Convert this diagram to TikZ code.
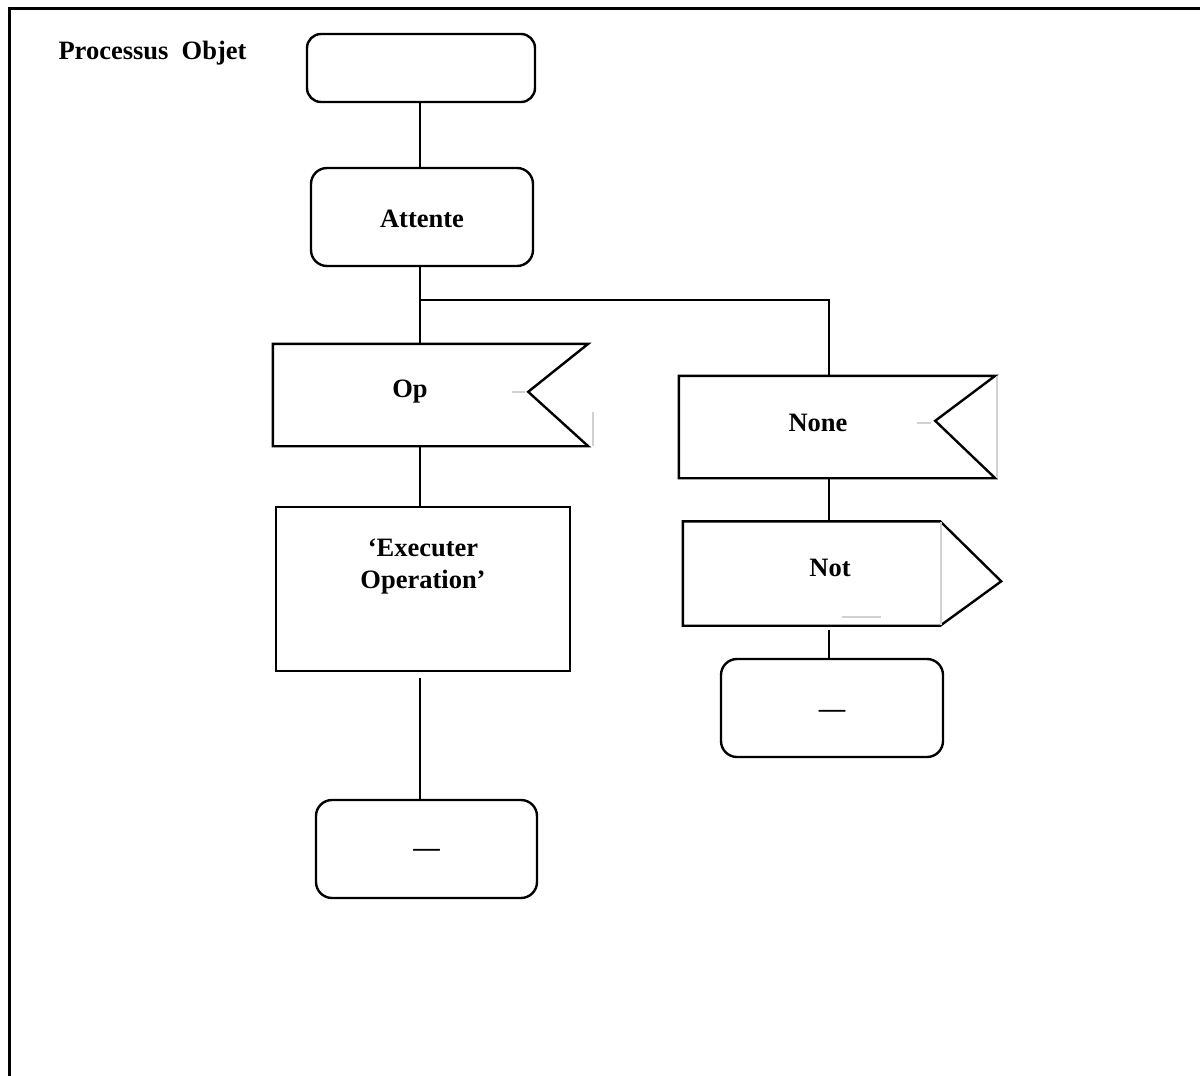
\documentclass[tikz,border=0pt]{standalone}
\usepackage{fontspec}
\setmainfont{Liberation Serif}
\usetikzlibrary{positioning}

\begin{document}
\begin{tikzpicture}[
        x=1pt, y=-1pt,
        every node/.style={font=\fontsize{26.5}{32}\selectfont\bfseries},
        state/.style={rectangle, draw, line width=2.4pt, rounded corners=16pt,
            minimum width=222, minimum height=98},
        task/.style={rectangle, draw, line width=2.4pt,
            minimum width=294, minimum height=164},
        sigbody/.style={rectangle, draw=none, inner sep=0pt},
        sig/.style={line width=2.4pt, line join=miter},
        link/.style={line width=2.4pt},
        ghost/.style={line width=1.5pt, color=black!18}
        ]
        \useasboundingbox (0,0) rectangle (1200,1076);
        % frame
        \draw[line width=3pt] (1200,8) -- (9,8) -- (9,1076);
        \node[anchor=west] (title) at (55,53) {Processus~~Objet};

        % left column
        \node[state, minimum width=228, minimum height=68, rounded corners=14pt]
            (start) at (421,68) {};
        \node[state] (attente) at (422,217) {};
        \node (attentetxt) at (422,219) {Attente};
        \node[sigbody, minimum width=315, minimum height=102] (op) at (430.5,395) {};
        \node (optxt) at (410,392) {Op};
        \node[task] (exec) at (423,589) {};
        \node[align=center] (exectxt) at (423,567) {‘Executer\\Operation’};
        \node[state, minimum width=221] (endl) at (426.5,849) {};
        \node (endltxt) at (426.5,853) {—};

        % right column
        \node[sigbody, minimum width=316, minimum height=102] (none) at (837,427) {};
        \node (nonetxt) at (818,423) {None};
        \node[sigbody, minimum width=257, minimum height=104] (notb) at (811.5,573.5) {};
        \node (nottxt) at (830,568) {Not};
        \node[state] (endr) at (832,708) {};
        \node (endrtxt) at (832,714) {—};

        % input signals (notch) and output signal (point)
        \draw[sig] (op.north east) -- ++(-60,48) -- (op.south east)
            -- (op.south west) -- (op.north west) -- cycle;
        \draw[sig] (none.north east) -- ++(-60,45) -- (none.south east)
            -- (none.south west) -- (none.north west) -- cycle;
        \draw[sig] (notb.north east) -- ++(61,60) -- (notb.south east)
            -- (notb.south west) -- (notb.north west) -- cycle;

        % leftover marks
        \draw[ghost] (512,392) -- (525,392);
        \draw[ghost] (593,412) -- (593,446);
        \draw[ghost] (917,423) -- (931,423);
        \draw[ghost] (997,376) -- (997,478);
        \draw[ghost] (941,522) -- (941,625);
        \draw[ghost] (842,617) -- (881,617);

        % connectors
        \coordinate (split) at (420,300);
        \coordinate (rbranch) at (829,300);
        \draw[link] (split |- start.south) -- (split |- attente.north);
        \draw[link] (split |- attente.south) -- (split |- op.north);
        \draw[link] (split) -- (rbranch) -- (rbranch |- none.north);
        \draw[link] (split |- op.south) -- (split |- exec.north);
        \draw[link] ([yshift=-6pt]split |- exec.south) -- (split |- endl.north);
        \draw[link] (rbranch |- none.south) -- (rbranch |- notb.north);
        \draw[link] ([yshift=-4pt]rbranch |- notb.south) -- (rbranch |- endr.north);
    \end{tikzpicture}
\end{document}
